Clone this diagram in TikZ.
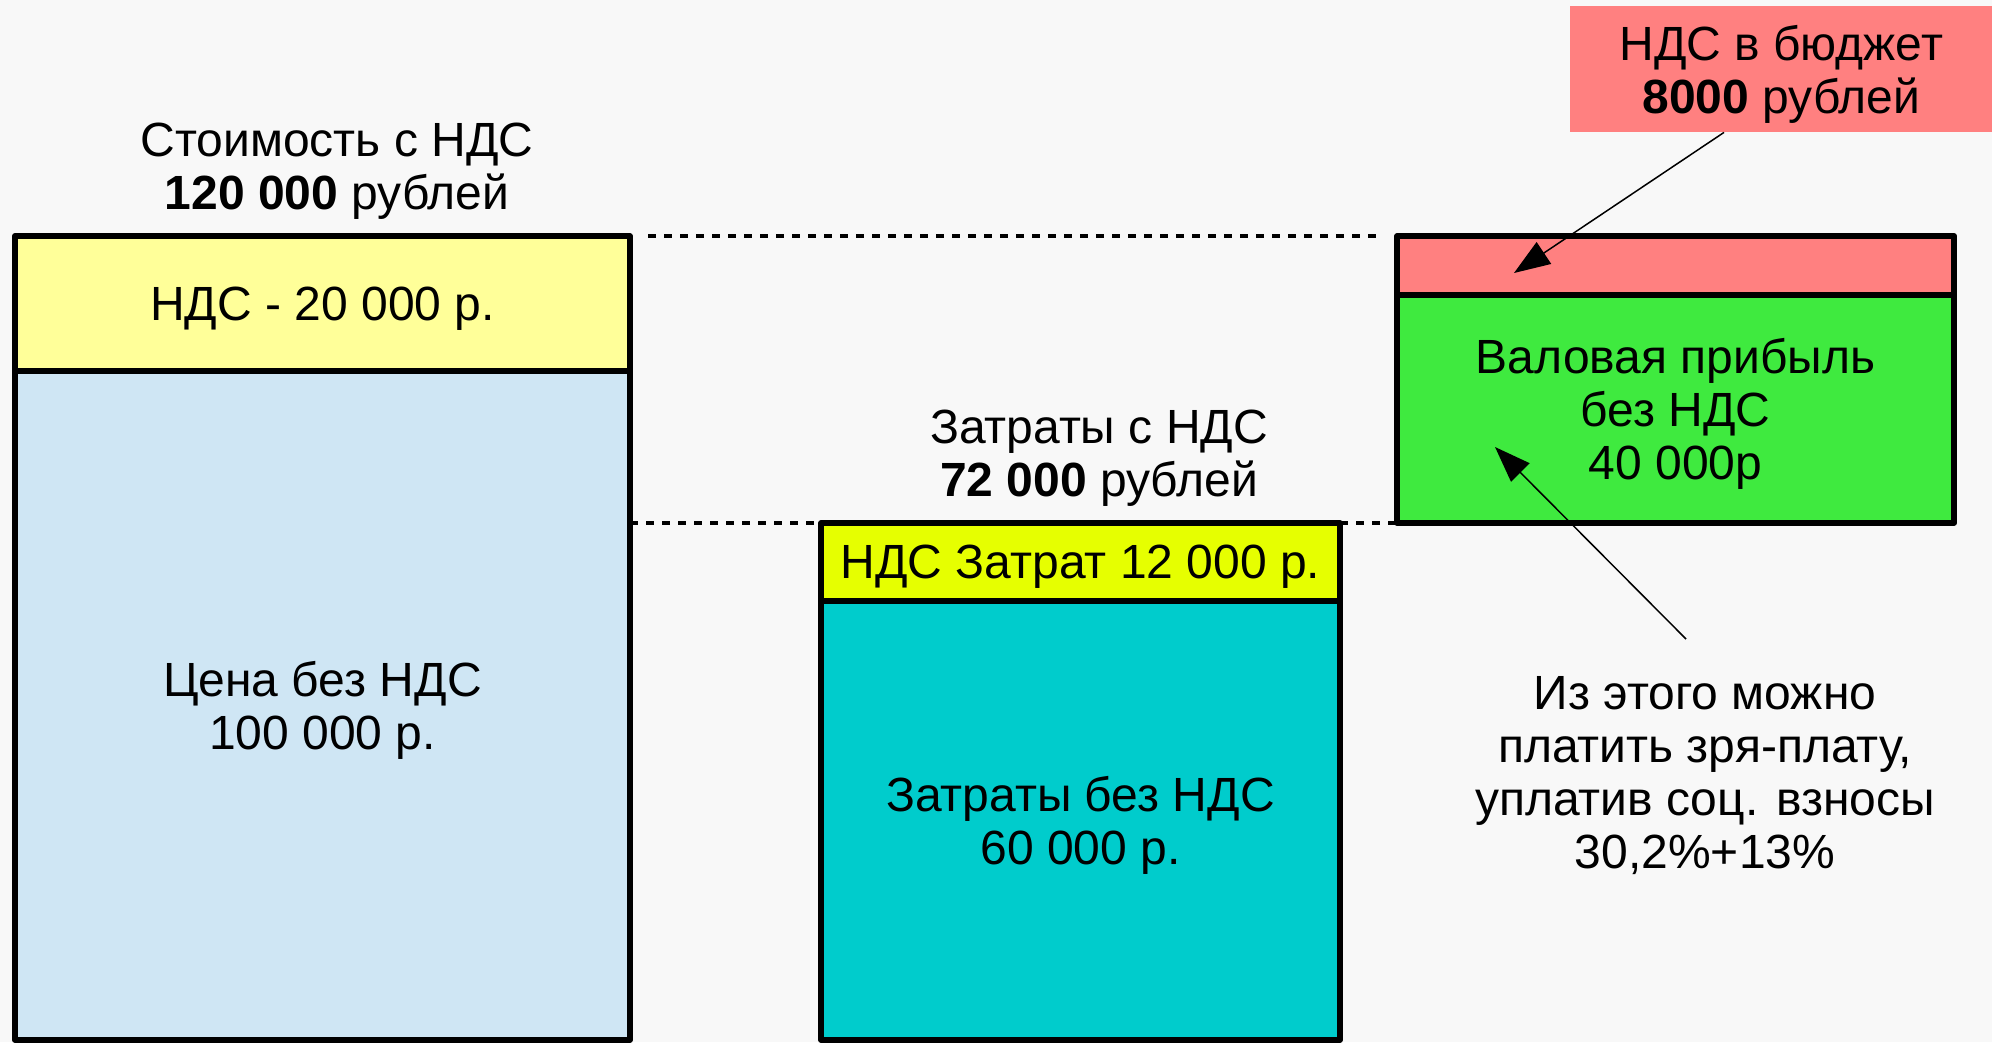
\documentclass[tikz,border=0pt]{standalone}
\usepackage{fontspec}
\setmainfont{Liberation Sans}
\usetikzlibrary{arrows.meta,calc}
\definecolor{bgc}{HTML}{F8F8F8}
\definecolor{paleyel}{HTML}{FFFF99}
\definecolor{paleblue}{HTML}{CFE6F4}
\definecolor{brightyel}{HTML}{E6FF00}
\definecolor{teal2}{HTML}{00CCCC}
\definecolor{pinkred}{HTML}{FF8080}
\definecolor{green2}{HTML}{3FEA3F}
\begin{document}
\begin{tikzpicture}[x=1pt,y=-1pt,
  every node/.style={font=\fontsize{48}{53}\selectfont, align=center, text depth=0pt},
  barbox/.style={draw=black, line width=5.8pt, inner sep=0pt, outer sep=0pt, anchor=north west, line join=round},
  txt/.style={inner sep=0pt},
  guide/.style={line width=4pt, dash pattern=on 7.5pt off 8.5pt},
  arr/.style={line width=1.5pt, -{Triangle[length=36pt,width=26pt]}}]
\useasboundingbox (0,0) rectangle (1992,1042);
\fill[bgc] (0,0) rectangle (1992,1042);

% left column
\node[barbox, fill=paleblue, minimum width=615pt, minimum height=669pt] (priceL) at (15,371) {Цена без НДС\\100 000 р.};
\node[barbox, fill=paleyel, minimum width=615pt, minimum height=135pt] (vatL) at (15,236) {НДС - 20 000 р.};
\node[txt] (costL) at (337,166) {Стоимость с НДС\\\textbf{120 000} рублей};

% middle column
\node[barbox, fill=teal2, minimum width=519pt, minimum height=439pt] (costM) at (821,601) {Затраты без НДС\\60 000 р.};
\node[barbox, fill=brightyel, minimum width=519pt, minimum height=78pt] (vatM) at (821,523) {НДС Затрат 12 000 р.};
\node[txt] (lblM) at (1099,453) {Затраты с НДС\\\textbf{72 000} рублей};

% right column
\node[barbox, fill=green2, minimum width=557pt, minimum height=228pt] (gross) at (1397,295) {Валовая прибыль\\без НДС\\40 000р};
\node[barbox, fill=pinkred, minimum width=557pt, minimum height=59pt] (vatR) at (1397,236) {};

% budget label
\node[fill=pinkred, inner sep=0pt, minimum width=422pt, minimum height=126pt, anchor=north west] (budget) at (1570,6) {НДС в бюджет\\\textbf{8000} рублей};

% note
\node[txt] (note) at (1705,772) {Из этого можно\\платить зря-плату,\\уплатив соц. взносы\\30,2\%+13\%};

% dashed guides
\draw[guide] ($(vatL.north east)+(18,0)$) -- ($(vatR.north west)+(-16,0)$);
\draw[guide] (priceL.east |- vatM.north) -- (vatM.north west);
\draw[guide] (vatM.north east) -- (vatM.north east -| gross.west);

% arrows
\coordinate (a1s) at ($(budget.south west)+(154,0)$);
\coordinate (a1e) at ($(vatR.north west)+(117,37)$);
\draw[arr] (a1s) -- (a1e);
\coordinate (a2s) at (1686,639);
\coordinate (a2e) at ($(gross.north west)+(98,152)$);
\draw[arr] (a2s) -- (a2e);
\end{tikzpicture}
\end{document}
